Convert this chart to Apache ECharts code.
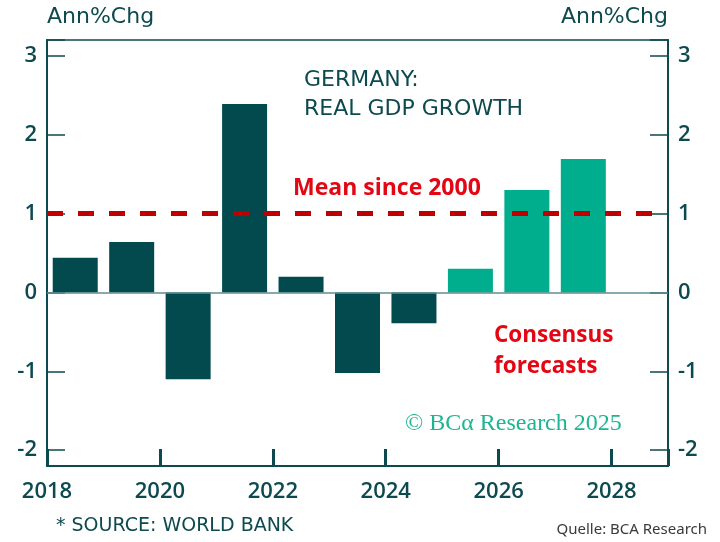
<!DOCTYPE html>
<html>
<head>
<meta charset="utf-8">
<script src="https://cdn.jsdelivr.net/npm/echarts@6/dist/echarts.min.js"></script>
<style>
  html, body { margin: 0; padding: 0; background: #fff; }
  #chart { width: 720px; height: 542px; }
</style>
</head>
<body>
<div id="chart"></div>
<script>
// data
const years = [2018, 2019, 2020, 2021, 2022, 2023, 2024, 2025, 2026, 2027]
const growth = [0.44, 0.64, -1.1, 2.39, 0.2, -1.02, -0.39, 0.3, 1.3, 1.69]
const forecastFrom = 2025
const meanSince2000 = 1
const xTicks = [2018, 2020, 2022, 2024, 2026, 2028]
const yTicks = [-2, -1, 0, 1, 2, 3]

const dark = '#034a4f'
const teal = '#00ad8d'
const ink = '#0d4a50'
const red = '#e30613'
const font = '"Open Sans", sans-serif'
const wide = '"DejaVu Sans", sans-serif'

const chart = echarts.init(document.getElementById('chart'))

// bars sit in the middle of each year
const barData = years.map((y, i) => ({
  value: [y + 0.5, growth[i]],
  itemStyle: { color: y >= forecastFrom ? teal : dark }
}))

const yAxisBase = {
  type: 'value',
  min: -2.2,
  max: 3.2,
  splitNumber: 5,
  axisLine: { show: true, onZero: false, lineStyle: { color: ink, width: 2 } },
  axisTick: { show: true, inside: true, length: 18, lineStyle: { color: ink, width: 1.5 } },
  axisLabel: {
    color: ink,
    fontSize: 22,
    fontWeight: 600,
    fontFamily: font,
    margin: 10,
    formatter: v => (yTicks.includes(v) ? String(v) : '')
  },
  splitLine: { show: false }
}

const option = {
  animation: false,
  grid: {
    left: 47,
    right: 52,
    top: 40,
    bottom: 76,
    show: true,
    borderColor: ink,
    borderWidth: 1.5
  },
  xAxis: {
    type: 'value',
    min: 2018,
    max: 2029,
    interval: 2,
    axisLine: { show: true, onZero: false, lineStyle: { color: ink, width: 2 } },
    axisTick: { show: true, inside: true, length: 17, lineStyle: { color: ink, width: 3 } },
    axisLabel: {
      color: ink,
      fontSize: 22,
      fontWeight: 600,
      fontFamily: font,
      margin: 15,
      formatter: v => (xTicks.includes(v) ? String(v) : '')
    },
    splitLine: { show: false }
  },
  yAxis: [
    Object.assign({}, yAxisBase, { position: 'left' }),
    Object.assign({}, yAxisBase, { position: 'right' })
  ],
  series: [
    {
      type: 'bar',
      data: barData,
      barWidth: 45,
      markLine: {
        silent: true,
        symbol: 'none',
        label: { show: false },
        data: [
          { yAxis: 0, lineStyle: { color: '#5f8e91', width: 1.5, type: 'solid' } },
          { yAxis: meanSince2000, lineStyle: { color: '#c00000', width: 5, type: [16, 15] } }
        ]
      }
    }
  ],
  graphic: [
    { type: 'text', left: 47, top: 6, style: { text: 'Ann%Chg', fill: ink, font: '22px ' + wide } },
    { type: 'text', right: 52, top: 6, style: { text: 'Ann%Chg', fill: ink, font: '22px ' + wide } },
    {
      type: 'text', left: 304, top: 66,
      style: { text: 'GERMANY:\nREAL GDP GROWTH', fill: ink, font: '22px ' + wide, lineHeight: 29 }
    },
    { type: 'text', left: 293, top: 177, style: { text: 'Mean since 2000', fill: red, font: 'bold 23px ' + font } },
    {
      type: 'text', left: 494, top: 320,
      style: { text: 'Consensus\nforecasts', fill: red, font: 'bold 22.5px ' + font, lineHeight: 31 }
    },
    {
      type: 'text', left: 405, top: 412,
      style: { text: '\u00a9 BC\u03b1 Research 2025', fill: '#1db592', font: '24px "Liberation Serif", "DejaVu Serif", serif' }
    },
    { type: 'text', left: 56, top: 517, style: { text: '* SOURCE: WORLD BANK', fill: ink, font: '19px ' + wide } },
    { type: 'text', right: 13, top: 522, style: { text: 'Quelle: BCA Research', fill: '#3a3a3a', font: '15px "Noto Sans", sans-serif' } }
  ]
}

chart.setOption(option)
</script>
</body>
</html>
